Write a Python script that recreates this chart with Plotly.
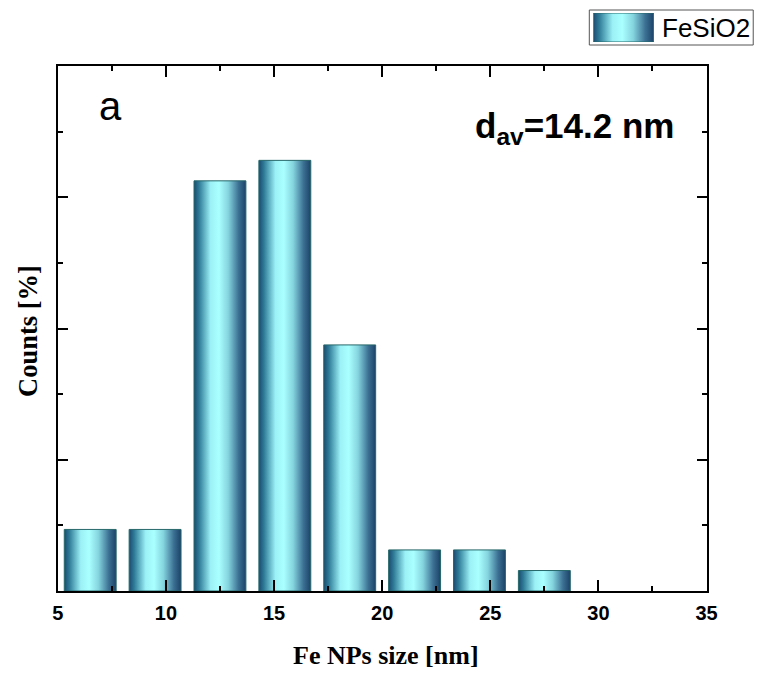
import plotly.graph_objects as go

# ---- data ----
bin_centers = [6.5, 9.5, 12.5, 15.5, 18.5, 21.5, 24.5, 27.5]   # nm
counts_pct = [4.69, 4.69, 31.25, 32.81, 18.75, 3.13, 3.13, 1.56]  # %
bin_width = 3.0
bar_frac = 0.8
series_name = "FeSiO2"
x_ticks = [5, 10, 15, 20, 25, 30, 35]

W, H = 760, 673
# plot area in pixels
PL, PR, PT, PB = 57, 710, 66, 591

def px_x(v):
    # small horizontal correction for the rendering pipeline
    return ((v - 4.9) / 0.984) / W

def px_y(v):
    return (H - v) / H

grad = [[0.0, "#1b4a70"], [0.1, "#2f7c98"], [0.32, "#9cf1f6"],
        [0.48, "#aaffff"], [0.66, "#84d4de"], [0.86, "#3b7093"],
        [1.0, "#1b4268"]]

fig = go.Figure()
hw = bin_width * bar_frac / 2
for c, v in zip(bin_centers, counts_pct):
    fig.add_trace(go.Scatter(
        x=[c - hw, c - hw, c + hw, c + hw, c - hw],
        y=[0, v, v, 0, 0],
        mode="lines", fill="toself",
        fillgradient=dict(type="horizontal", colorscale=grad),
        line=dict(color="#27686a", width=1),
        showlegend=False, hoverinfo="skip",
        xaxis="x", yaxis="y"))

# legend symbol (manual legend)
fig.add_trace(go.Scatter(
    x=[0, 0, 1, 1, 0], y=[0, 1, 1, 0, 0], mode="lines", fill="toself",
    fillgradient=dict(type="horizontal", colorscale=grad),
    line=dict(color="#27686a", width=1),
    showlegend=False, hoverinfo="skip", xaxis="x2", yaxis="y2"))

tickfont = dict(family="Liberation Sans, Arial", size=20, color="black", weight="bold")
fig.update_layout(
    width=W, height=H,
    margin=dict(l=0, r=0, t=0, b=0),
    paper_bgcolor="white", plot_bgcolor="white",
    showlegend=False,
    xaxis=dict(domain=[px_x(PL), px_x(PR)], range=[5, 35],
               tickvals=x_ticks, ticktext=[str(t) for t in x_ticks],
               ticks="inside", ticklen=11, tickwidth=2, tickcolor="black",
               minor=dict(dtick=2.5, ticks="inside", ticklen=5, tickwidth=2, tickcolor="black"),
               showline=True, linecolor="black", linewidth=2, mirror="ticks",
               showgrid=False, zeroline=False, tickfont=tickfont,
               ticklabelstandoff=3,
               anchor="y"),
    yaxis=dict(domain=[px_y(PB), px_y(PT)], range=[0, 40], dtick=10,
               ticks="inside", ticklen=10, tickwidth=2, tickcolor="black",
               minor=dict(dtick=5, ticks="inside", ticklen=5, tickwidth=2, tickcolor="black"),
               showticklabels=False,
               showline=True, linecolor="black", linewidth=2, mirror="ticks",
               showgrid=False, zeroline=False, anchor="x"),
    xaxis2=dict(domain=[px_x(596), px_x(657)], range=[0, 1], visible=False,
                anchor="y2", fixedrange=True),
    yaxis2=dict(domain=[px_y(42), px_y(13)], range=[0, 1], visible=False,
                anchor="x2", fixedrange=True),
)

fig.add_shape(type="rect", xref="paper", yref="paper",
              x0=px_x(592), x1=px_x(757), y0=px_y(45), y1=px_y(10),
              line=dict(color="#555555", width=1), fillcolor="rgba(0,0,0,0)",
              layer="below")

ann = [
    dict(text=series_name, x=px_x(663), y=px_y(28), xanchor="left", yanchor="middle",
         font=dict(family="Liberation Sans, Arial", size=26, color="black")),
    dict(text="a", x=px_x(110), y=px_y(106), xanchor="center", yanchor="middle",
         font=dict(family="Liberation Sans, Arial", size=40, color="black")),
    dict(text="<b>d<sub>av</sub>=14.2 nm</b>", x=px_x(577), y=px_y(128),
         xanchor="center", yanchor="middle",
         font=dict(family="Liberation Sans, Arial", size=35, color="black")),
    dict(text="<b>Fe NPs size [nm]</b>", x=px_x(387), y=px_y(655),
         xanchor="center", yanchor="middle",
         font=dict(family="Liberation Serif, Times New Roman", size=26, color="black")),
    dict(text="<b>Counts [%]</b>", x=px_x(27), y=px_y(331), textangle=-90,
         xanchor="center", yanchor="middle",
         font=dict(family="Liberation Serif, Times New Roman", size=26.5, color="black")),
]
for a in ann:
    fig.add_annotation(xref="paper", yref="paper", showarrow=False, **a)

fig.write_html("out.html")
